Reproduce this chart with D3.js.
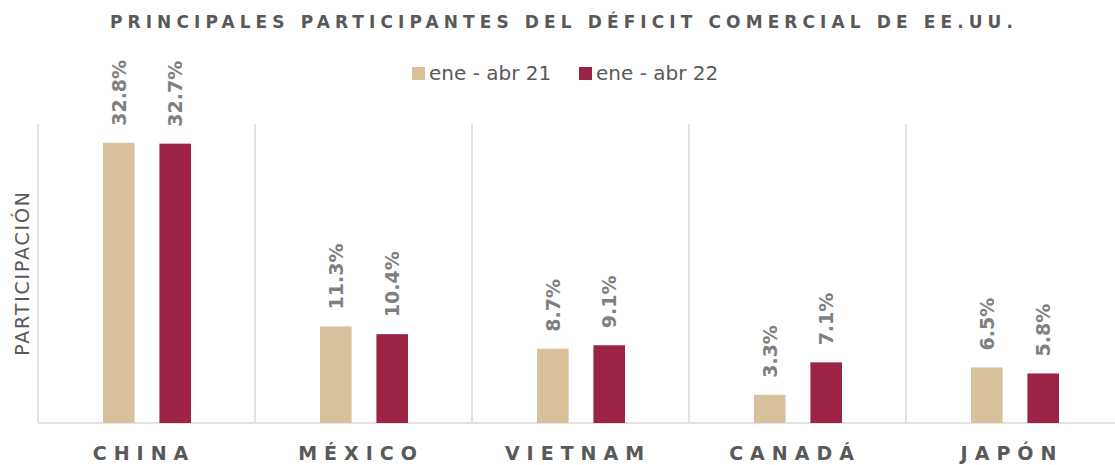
<!DOCTYPE html>
<html>
<head>
<meta charset="utf-8">
<script src="https://cdn.jsdelivr.net/npm/d3@7"></script>
<style>
  body { margin: 0; background: #fff; }
  text { font-family: "DejaVu Sans", sans-serif; }
</style>
</head>
<body>
<svg></svg>
<script>
width = 1115;
height = 465;

countries = ['CHINA', 'MÉXICO', 'VIETNAM', 'CANADÁ', 'JAPÓN'];
series = ['ene - abr 21', 'ene - abr 22'];
values21 = [32.8, 11.3, 8.7, 3.3, 6.5];
values22 = [32.7, 10.4, 9.1, 7.1, 5.8];
colors = ['#d6c19a', '#9c2346'];

svg = d3.select('svg')
  .attr('width', width)
  .attr('height', height);

margin = { left: 38, top: 124, bottom: 42 };

// the last band runs a little past the right edge of the picture
x0 = d3.scaleBand()
  .domain(countries)
  .range([margin.left, margin.left + 5 * 217])
  .padding(0);

bw = x0.bandwidth();
x1 = d3.scaleBand()
  .domain(series)
  .range([65, 153])
  .paddingInner(0.44);

y = d3.scaleLinear()
  .domain([0, 35])
  .range([height - margin.bottom, margin.top]);

baseY = y(0);

// category separators
svg.append('g')
  .selectAll('line')
  .data(countries)
  .enter().append('line')
  .attr('x1', d => x0(d))
  .attr('x2', d => x0(d))
  .attr('y1', y(35))
  .attr('y2', baseY)
  .attr('stroke', '#d9d9d9')
  .attr('stroke-width', 1.5);

svg.append('line')
  .attr('x1', margin.left)
  .attr('x2', width)
  .attr('y1', baseY)
  .attr('y2', baseY)
  .attr('stroke', '#d9d9d9')
  .attr('stroke-width', 1.5);

data = [];
countries.forEach((c, i) => {
  data.push({ country: c, s: series[0], v: values21[i], color: colors[0] });
  data.push({ country: c, s: series[1], v: values22[i], color: colors[1] });
});

bars = svg.append('g');
bars.selectAll('rect')
  .data(data)
  .enter().append('rect')
  .attr('x', d => x0(d.country) + x1(d.s))
  .attr('y', d => y(d.v))
  .attr('width', x1.bandwidth())
  .attr('height', d => baseY - y(d.v))
  .attr('fill', d => d.color);

bars.selectAll('text')
  .data(data)
  .enter().append('text')
  .attr('transform', d => `translate(${x0(d.country) + x1(d.s) + x1.bandwidth() / 2 + 7}, ${y(d.v) - 17}) rotate(-90)`)
  .attr('text-anchor', 'start')
  .attr('font-size', 19)
  .attr('font-weight', 'bold')
  .attr('fill', '#7f7f7f')
  .text(d => d.v.toFixed(1) + '%');

// category labels
svg.append('g')
  .selectAll('text')
  .data(countries)
  .enter().append('text')
  .attr('x', d => x0(d) + bw / 2 - 2.5)
  .attr('y', 460)
  .attr('text-anchor', 'middle')
  .attr('font-size', 19)
  .attr('font-weight', 'bold')
  .attr('letter-spacing', 7)
  .attr('fill', '#595959')
  .text(d => d);

// title
svg.append('text')
  .attr('x', 564)
  .attr('y', 28)
  .attr('text-anchor', 'middle')
  .attr('font-size', 17)
  .attr('font-weight', 'bold')
  .attr('letter-spacing', 5.1)
  .attr('fill', '#595959')
  .text('PRINCIPALES PARTICIPANTES DEL DÉFICIT COMERCIAL DE EE.UU.');

// y axis title
svg.append('text')
  .attr('transform', 'translate(29, 273) rotate(-90)')
  .attr('text-anchor', 'middle')
  .attr('font-size', 19)
  .attr('letter-spacing', 1.8)
  .attr('fill', '#595959')
  .text('PARTICIPACIÓN');

// legend
legendX = [412, 579];
legend = svg.append('g')
  .selectAll('g')
  .data(series)
  .enter().append('g')
  .attr('transform', (d, i) => `translate(${legendX[i]}, 67)`);
legend.append('rect')
  .attr('width', 13)
  .attr('height', 13)
  .attr('fill', (d, i) => colors[i]);
legend.append('text')
  .attr('x', 17)
  .attr('y', 13)
  .attr('font-size', 20)
  .attr('fill', '#595959')
  .text(d => d);
</script>
</body>
</html>
